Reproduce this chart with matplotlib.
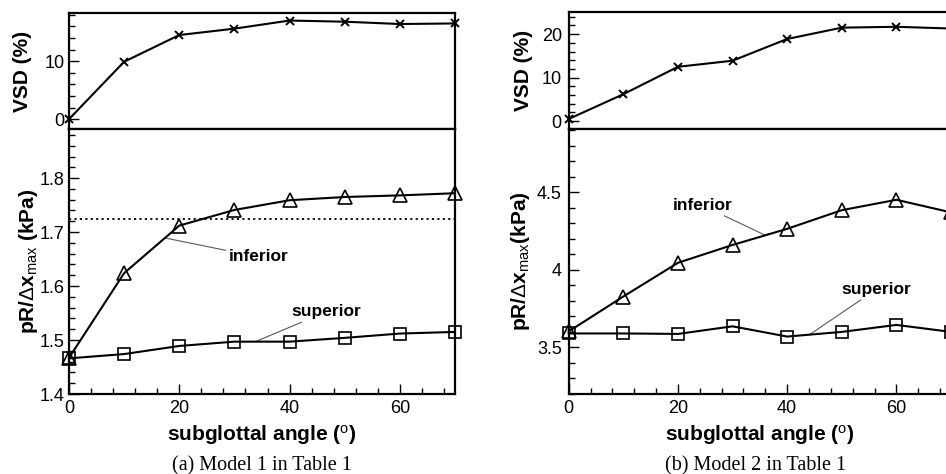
import numpy as np
import matplotlib
matplotlib.use("Agg")
import matplotlib.pyplot as plt
from matplotlib.ticker import MultipleLocator, FixedLocator

plt.rcParams['font.family'] = ['Liberation Sans', 'DejaVu Sans']
plt.rcParams['mathtext.fontset'] = 'custom'
plt.rcParams['mathtext.rm'] = 'Liberation Sans'
plt.rcParams['mathtext.it'] = 'Liberation Sans:italic'
plt.rcParams['mathtext.bf'] = 'Liberation Sans:bold'

# data
angle = [0, 10, 20, 30, 40, 50, 60, 70]

vsd_m1 = [0.0, 9.9, 14.5, 15.6, 17.0, 16.8, 16.4, 16.5]
inf_m1 = [1.467, 1.624, 1.712, 1.741, 1.759, 1.765, 1.768, 1.772]
sup_m1 = [1.466, 1.474, 1.489, 1.497, 1.497, 1.504, 1.512, 1.515]
ref_m1 = 1.725

vsd_m2 = [0.5, 6.2, 12.5, 13.9, 18.9, 21.5, 21.7, 21.3]
inf_m2 = [3.603, 3.828, 4.045, 4.160, 4.264, 4.384, 4.451, 4.370]
sup_m2 = [3.590, 3.590, 3.587, 3.636, 3.570, 3.600, 3.645, 3.600]

captions = ['(a) Model 1 in Table 1', '(b) Model 2 in Table 1']
ylab_top = 'VSD (%)'
ylab_bot = [r'pR/$\Delta$x$_{\rm max}$ (kPa)', r'pR/$\Delta$x$_{\rm max}$(kPa)']
xlab = r'subglottal angle ($^{\rm o}$)'

fig = plt.figure(figsize=(9.46, 4.74), dpi=100)

W, H = 946.0, 474.0


def style(ax, ypad):
    for s in ax.spines.values():
        s.set_linewidth(1.6)
    ax.tick_params(which='both', direction='in', labelsize=13, pad=ypad,
                   right=False, top=False, width=1.0)
    ax.tick_params(which='major', length=7)
    ax.tick_params(which='minor', length=4)


def panel(x0, x1, ytop_vsd, vsd, vsd_lim, vsd_ticks, inf, sup, blim, bticks,
          bticklabels, bminor, ypad, lab_x, caption, cap_x, blab, ref=None):
    left = x0 / W
    width = (x1 - x0) / W
    top_b = 1 - 129 / H
    axt = fig.add_axes([left, top_b, width, (129 - ytop_vsd) / H])
    axb = fig.add_axes([left, 1 - 394 / H, width, (394 - 129) / H])

    # VSD
    axt.plot(angle, vsd, color='k', lw=1.5, marker='x', ms=6, mew=1.4,
             clip_on=False, zorder=5)
    axt.set_xlim(0, 70)
    axt.set_ylim(*vsd_lim)
    axt.yaxis.set_major_locator(FixedLocator(vsd_ticks))
    axt.yaxis.set_minor_locator(MultipleLocator(2))
    style(axt, ypad)
    axt.tick_params(axis='x', which='both', bottom=False, labelbottom=False)
    axt.set_ylabel(ylab_top, fontsize=15, fontweight='bold')
    axt.yaxis.set_label_coords(lab_x[0], 0.5)

    # pR / dx_max
    axb.plot(angle, inf, color='k', lw=1.5, marker='^', ms=9.5, mfc='none',
             mew=1.2, clip_on=False, zorder=5)
    axb.plot(angle, sup, color='k', lw=1.5, marker='s', ms=8.5, mfc='none',
             mew=1.2, clip_on=False, zorder=5)
    if ref is not None:
        axb.axhline(ref, color='k', lw=1.3, ls=(0, (1.2, 1.8)))
    axb.set_xlim(0, 70)
    axb.set_ylim(*blim)
    axb.yaxis.set_major_locator(FixedLocator(bticks))
    axb.set_yticklabels(bticklabels)
    axb.yaxis.set_minor_locator(MultipleLocator(bminor))
    axb.xaxis.set_major_locator(MultipleLocator(20))
    axb.xaxis.set_minor_locator(MultipleLocator(4))
    style(axb, ypad)
    axb.tick_params(axis='x', pad=4)
    axb.set_ylabel(blab, fontsize=15, fontweight='bold')
    axb.yaxis.set_label_coords(lab_x[1], 0.5)
    axb.set_xlabel(xlab, fontsize=15, fontweight='bold')
    axb.xaxis.set_label_coords(0.5, -0.11)

    fig.text(cap_x / W, 1 - 470 / H, caption, ha='center', va='baseline',
             fontsize=14.5, family='Liberation Serif')
    return axt, axb


lead = dict(arrowstyle='-', color='0.35', lw=0.8, shrinkA=0, shrinkB=0)
lab_kw = dict(fontsize=12.5, fontweight='bold')

# (a) Model 1
axt1, axb1 = panel(69, 455, 13, vsd_m1, (-1.7, 18.3), [0, 10], inf_m1, sup_m1,
                   (1.4, 1.891), [1.4, 1.5, 1.6, 1.7, 1.8],
                   ['1.4', '1.5', '1.6', '1.7', '1.8'], 0.02, 3,
                   (-0.095, -0.076), captions[0], 262, ylab_bot[0], ref=ref_m1)
axb1.annotate('inferior', xy=(17.4, np.interp(17.4, angle, inf_m1)),
              xytext=(28.9, 1.654), ha='left', va='center', arrowprops=lead,
              **lab_kw)
axb1.annotate('superior', xy=(33.8, np.interp(33.8, angle, sup_m1)),
              xytext=(40.3, 1.552), ha='left', va='center', arrowprops=lead,
              **lab_kw)

# (b) Model 2 (cut off at the right edge)
axt2, axb2 = panel(568.7, 951, 12, vsd_m2, (-1.8, 25.1), [0, 10, 20], inf_m2,
                   sup_m2, (3.2, 4.907), [3.5, 4.0, 4.5], ['3.5', '4', '4.5'],
                   0.1, 5, (-0.093, -0.097), captions[1], 756, ylab_bot[1])
axb2.annotate('inferior', xy=(36.0, np.interp(36.0, angle, inf_m2)),
              xytext=(30.0, 4.414), ha='right', va='center', arrowprops=lead,
              **lab_kw)
axb2.annotate('superior', xy=(44.1, np.interp(44.1, angle, sup_m2)),
              xytext=(49.9, 3.873), ha='left', va='center', arrowprops=lead,
              **lab_kw)

fig.savefig('out.png', dpi=100)
